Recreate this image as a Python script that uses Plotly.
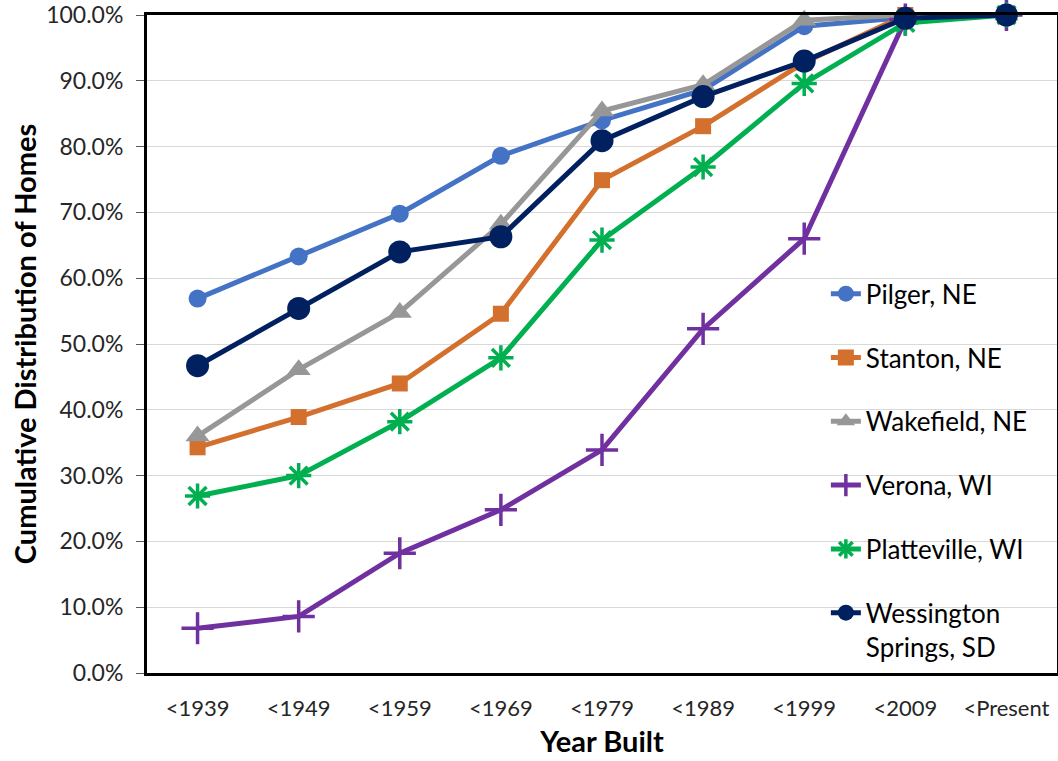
import plotly.graph_objects as go

categories = ["<1939", "<1949", "<1959", "<1969", "<1979", "<1989", "<1999", "<2009", "<Present"]

pilger = [56.9, 63.3, 69.8, 78.6, 84.0, 88.6, 98.3, 99.6, 100.0]
stanton = [34.3, 38.9, 44.0, 54.6, 74.9, 83.1, 92.8, 100.0, 100.0]
wakefield = [36.0, 46.1, 54.8, 68.2, 85.4, 89.4, 99.2, 100.0, 100.0]
verona = [6.8, 8.6, 18.2, 24.8, 33.9, 52.3, 66.0, 99.3, 100.0]
platteville = [26.9, 30.0, 38.2, 47.9, 65.8, 76.9, 89.6, 98.8, 100.0]
wessington = [46.7, 55.4, 64.0, 66.3, 80.9, 87.6, 93.0, 99.5, 100.0]

series_names = ["Pilger, NE", "Stanton, NE", "Wakefield, NE", "Verona, WI",
                "Platteville, WI", "Wessington<br>Springs, SD"]

FONT = "Lato"

styles = [
    dict(color="#4472C4", symbol="circle", size=18, mline=0),
    dict(color="#D3702D", symbol="square", size=16, mline=0),
    dict(color="#979797", symbol="triangle-up", size=21, mline=0),
    dict(color="#7030A0", symbol="cross-thin", size=23, mline=3.5),
    dict(color="#00B050", symbol="asterisk", size=21, mline=3.5),
    dict(color="#002060", symbol="circle", size=23, mline=0),
]

data = [pilger, stanton, wakefield, verona, platteville, wessington]

fig = go.Figure()
for i, (name, vals, st) in enumerate(zip(series_names, data, styles)):
    fig.add_trace(go.Scatter(
        x=categories, y=vals, name=name, mode="lines+markers",
        legendgroup=f"g{i}",
        line=dict(color=st["color"], width=5),
        marker=dict(symbol=st["symbol"], size=st["size"], color=st["color"],
                    line=dict(color=st["color"], width=st["mline"])),
        cliponaxis=False,
    ))

# white backdrop behind the legend (covers gridlines, keeps the plot border visible)
fig.add_shape(type="rect", xref="paper", yref="paper",
              x0=0.7385, x1=0.9857, y0=0.008, y1=0.59,
              fillcolor="white", line=dict(width=0), layer="between")

fig.update_layout(
    width=1058, height=761,
    margin=dict(l=147, r=1, t=15, b=88, autoexpand=False),
    paper_bgcolor="white", plot_bgcolor="white",
    font=dict(family=FONT, color="#262626"),
    showlegend=True,
    legend=dict(
        x=0.746, y=0.612, xanchor="left", yanchor="top",
        bgcolor="rgba(0,0,0,0)", borderwidth=0,
        font=dict(family=FONT, size=26, color="#000000"),
        traceorder="grouped", tracegroupgap=27, valign="top",
        itemwidth=30,
    ),
    xaxis=dict(
        type="category", range=[-0.5, 8.5],
        showline=True, linecolor="#000000", linewidth=3, mirror=True,
        showgrid=False, ticks="",
        tickfont=dict(family=FONT, size=22, color="#262626"),
        ticklabelstandoff=14,
        title=dict(text="<b>Year Built</b>", font=dict(family=FONT, size=29, color="#000000"), standoff=12),
    ),
    yaxis=dict(
        range=[0, 100], dtick=10, tickformat=".1f", ticksuffix="%",
        showline=True, linecolor="#000000", linewidth=3, mirror=True,
        showgrid=True, gridcolor="#D9D9D9", gridwidth=1,
        ticks="outside", ticklen=8, tickcolor="#595959",
        tickfont=dict(family=FONT, size=23, color="#262626"),
        ticklabelstandoff=8,
        zeroline=False,
        title=dict(text="<b>Cumulative Distribution of Homes</b>", font=dict(family=FONT, size=29, color="#000000"), standoff=2),
    ),
)

fig.write_html("out.html", config={"displayModeBar": False},
               post_script="document.body.style.margin='0';document.body.style.padding='0';")
